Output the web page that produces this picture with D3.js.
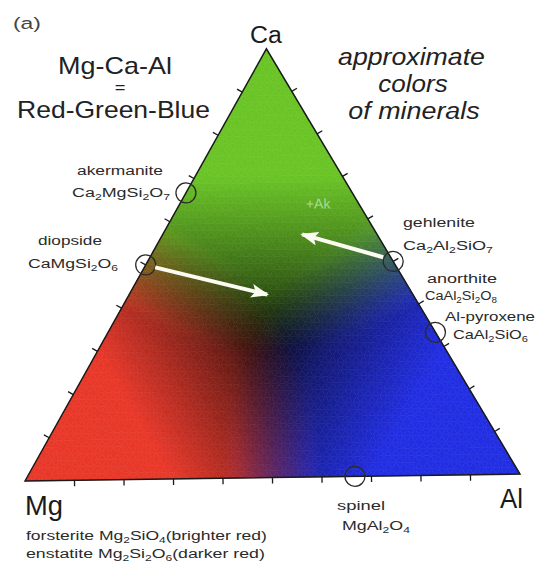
<!DOCTYPE html>
<html><head><meta charset="utf-8">
<script src="https://cdn.jsdelivr.net/npm/d3@7"></script>
<style>html,body{margin:0;padding:0;background:#fff;} svg{display:block;}</style>
</head><body>
<svg id="c" width="537" height="567"></svg>
<script>
// ---------------- data ----------------
const vertexLabels = ["Mg", "Ca", "Al"];
const tickValues = [0.1, 0.2, 0.3, 0.4, 0.5, 0.6, 0.7, 0.8, 0.9];

// minerals marked with circles (atomic Mg, Ca, Al proportions)
const mineralNames    = ["akermanite", "diopside", "gehlenite", "Al-pyroxene", "spinel"];
const mineralFormulas = ["Ca_2MgSi_2O_7", "CaMgSi_2O_6", "Ca_2Al_2SiO_7", "CaAl_2SiO_6", "MgAl_2O_4"];
const mineralMg = [1/3, 1/2, 0,   0,   1/3];
const mineralCa = [2/3, 1/2, 1/2, 1/3, 0];
const mineralAl = [0,   0,   1/2, 2/3, 2/3];

// labels without their own circle
const extraNames    = ["anorthite"];
const extraFormulas = ["CaAl_2Si_2O_8"];
const endNotes = ["forsterite Mg_2SiO_4(brighter red)", "enstatite Mg_2Si_2O_6(darker red)"];

// trend arrows (start / end compositions)
const arrowFromMg = [0.484, 0.015], arrowFromCa = [0.494, 0.510], arrowFromAl = [0.022, 0.475];
const arrowToMg   = [0.292, 0.150], arrowToCa   = [0.427, 0.566], arrowToAl   = [0.281, 0.284];
const akLabel = "+Ak", akMg = 0.087, akCa = 0.626, akAl = 0.287;

// ---------------- layout ----------------
const svg = d3.select("#c");
const FONT = "'Liberation Sans', Arial, Helvetica, sans-serif";
const side = 495, h = side * Math.sqrt(3) / 2;
const xS = d3.scaleLinear().domain([0, 1]).range([0, side]);
const yS = d3.scaleLinear().domain([0, 1]).range([0, -h]);
const proj = (mg, ca, al) => [xS(al + ca / 2), yS(ca)];

const g = svg.append("g").attr("transform", "translate(25,481) rotate(-0.81)");

// colour field: each element drives its own channel colour
const cMg = [226, 50, 36], cCa = [100, 190, 32], cAl = [28, 40, 220];
const A = f => Math.pow(Math.max(0, Math.min(1, (f - 0.3) / 0.4)), 0.8);
const B = d => Math.pow(Math.max(0, Math.min(1, (d + 0.2) / 0.35)), 0.8);
function colorAt(mg, ca, al) {
  const w = [A(mg) * B(mg - Math.max(ca, al)), A(ca) * B(ca - Math.max(mg, al)), A(al) * B(al - Math.max(mg, ca))];
  const rgb = [0, 1, 2].map(k => Math.min(255, Math.round(cMg[k] * w[0] + cCa[k] * w[1] + cAl[k] * w[2] + 6)));
  return `rgb(${rgb[0]},${rgb[1]},${rgb[2]})`;
}
const N = 64;
const cells = [];
for (let i = 0; i < N; i++) {
  for (let j = 0; i + j < N; j++) {
    cells.push([[i, j], [i, j + 1], [i + 1, j]]);
    if (i + j <= N - 2) cells.push([[i + 1, j], [i, j + 1], [i + 1, j + 1]]);
  }
}
const lp = ([i, j]) => proj((N - i - j) / N, i / N, j / N);
g.append("g").selectAll("path").data(cells).join("path")
  .attr("d", c => "M" + c.map(lp).map(p => p.join(",")).join("L") + "Z")
  .each(function (c) {
    const ca = (c[0][0] + c[1][0] + c[2][0]) / (3 * N);
    const al = (c[0][1] + c[1][1] + c[2][1]) / (3 * N);
    const col = colorAt(1 - ca - al, ca, al);
    d3.select(this).attr("fill", col).attr("stroke", col).attr("stroke-width", 0.6);
  });

// outline
const corners = [proj(1, 0, 0), proj(0, 1, 0), proj(0, 0, 1)];
g.append("path").attr("d", "M" + corners.map(p => p.join(",")).join("L") + "Z")
  .attr("fill", "none").attr("stroke", "#1a1a1a").attr("stroke-width", 1.5);

// ticks
const s3 = Math.sqrt(3) / 2;
const edges = [
  { f: t => proj(1 - t, 0, t), n: [0, 1] },
  { f: t => proj(1 - t, t, 0), n: [-s3, -0.5] },
  { f: t => proj(0, t, 1 - t), n: [s3, -0.5] }
];
edges.forEach(e => {
  g.append("g").selectAll("line").data(tickValues).join("line")
    .attr("x1", t => e.f(t)[0]).attr("y1", t => e.f(t)[1])
    .attr("x2", t => e.f(t)[0] + e.n[0] * 6).attr("y2", t => e.f(t)[1] + e.n[1] * 6)
    .attr("stroke", "#1a1a1a").attr("stroke-width", 1.3);
});

// mineral circles
g.append("g").selectAll("circle").data(mineralNames).join("circle")
  .attr("cx", (d, i) => proj(mineralMg[i], mineralCa[i], mineralAl[i])[0])
  .attr("cy", (d, i) => proj(mineralMg[i], mineralCa[i], mineralAl[i])[1])
  .attr("r", 10).attr("fill", "none").attr("stroke", "#2a2a2a").attr("stroke-width", 1.3);

// arrows
svg.append("defs").append("marker").attr("id", "ah")
  .attr("markerUnits", "userSpaceOnUse").attr("markerWidth", 18).attr("markerHeight", 14)
  .attr("refX", 16).attr("refY", 7).attr("orient", "auto")
  .append("path").attr("d", "M0,0L18,7L0,14L4,7Z").attr("fill", "#fbfbf2");
g.append("g").selectAll("line").data(arrowFromMg).join("line")
  .attr("x1", (d, i) => proj(arrowFromMg[i], arrowFromCa[i], arrowFromAl[i])[0])
  .attr("y1", (d, i) => proj(arrowFromMg[i], arrowFromCa[i], arrowFromAl[i])[1])
  .attr("x2", (d, i) => proj(arrowToMg[i], arrowToCa[i], arrowToAl[i])[0])
  .attr("y2", (d, i) => proj(arrowToMg[i], arrowToCa[i], arrowToAl[i])[1])
  .attr("stroke", "#fbfbf2").attr("stroke-width", 4).attr("marker-end", "url(#ah)");

// text helper: str with _d subscripts, placed at baseline (x,y), stretched to width w
function label(str, x, y, size, w, opts = {}) {
  const gg = svg.append("g").attr("transform", `translate(${x},${y})`);
  const t = gg.append("text").attr("font-family", FONT).attr("font-size", size)
    .attr("fill", opts.fill || "#2a2a2a")
    .attr("font-style", opts.italic ? "italic" : null)
    .attr("text-anchor", opts.anchor || "start");
  const parts = str.split(/(_\d)/).filter(s => s.length);
  let shifted = false;
  parts.forEach(p => {
    if (p[0] === "_") {
      t.append("tspan").attr("font-size", size * 0.68).attr("dy", shifted ? 0 : size * 0.25).text(p.slice(1));
      shifted = true;
    } else {
      t.append("tspan").attr("dy", shifted ? -size * 0.25 : 0).text(p);
      shifted = false;
    }
  });
  if (w) {
    const bw = t.node().getBBox().width;
    t.attr("transform", `scale(${w / bw},1)`);
  }
  return t;
}

// titles
label("(a)", 13, 29, 17, 28, { fill: "#444" });
label("Mg-Ca-Al", 115, 74, 23, 114, { anchor: "middle", fill: "#222" });
label("=", 120, 93, 15, 11, { anchor: "middle", fill: "#222" });
label("Red-Green-Blue", 113.5, 118, 23, 193, { anchor: "middle", fill: "#222" });
label("approximate", 411.5, 65, 23, 147, { anchor: "middle", italic: true, fill: "#222" });
label("colors", 413, 92, 23, 70, { anchor: "middle", italic: true, fill: "#222" });
label("of minerals", 414, 119, 23, 132, { anchor: "middle", italic: true, fill: "#222" });

// vertex labels
label(vertexLabels[1], 250, 43, 23, 32, { fill: "#1a1a1a" });
label(vertexLabels[0], 25, 515, 28, 38, { fill: "#1a1a1a" });
label(vertexLabels[2], 500, 508, 28, 23, { fill: "#1a1a1a" });

// mineral labels (name / formula)
const nameBoxes = {
  "akermanite": [77, 175, 86, 72, 197, 98],
  "diopside": [38, 245, 64, 28, 268, 90],
  "gehlenite": [403, 227, 72, 403, 250, 90],
  "Al-pyroxene": [445, 321, 90, 453, 339, 75],
  "spinel": [337, 510, 48, 342, 530, 68]
};
mineralNames.forEach((n, i) => {
  const b = nameBoxes[n];
  label(n, b[0], b[1], 13.5, b[2]);
  label(mineralFormulas[i], b[3], b[4], 13.5, b[5]);
});
label(extraNames[0], 427, 283, 13.5, 70);
label(extraFormulas[0], 425, 300, 13.5, 72);

label(endNotes[0], 26, 540, 13.5, 241);
label(endNotes[1], 26, 558, 13.5, 239);

// +Ak label (placed at its composition)
const ak = proj(akMg, akCa, akAl);
g.append("text").attr("x", ak[0]).attr("y", ak[1]).attr("font-family", FONT)
  .attr("font-size", 14).attr("fill", "#a6dd96").attr("text-anchor", "middle").text(akLabel);
</script>
</body></html>
